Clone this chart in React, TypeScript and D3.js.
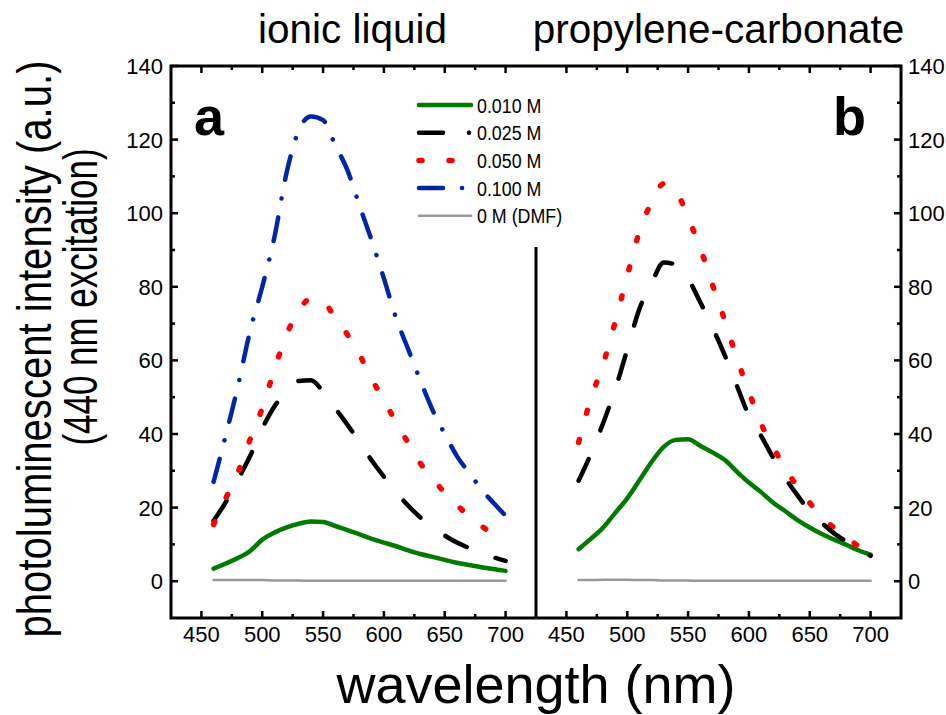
import React, { useEffect, useRef } from 'react';
import * as d3 from 'd3';

// wavelength grid (nm)
const wavelengths = [460, 470, 480, 490, 500, 510, 520, 530, 540, 550, 560, 570, 580, 590, 600, 610, 620, 630, 640, 650, 660, 670, 680, 690, 700];

// panel a: ionic liquid
const ilM010 = [3.4, 4.8, 6.3, 8.2, 11.3, 13.2, 14.6, 15.6, 16.2, 16.1, 15.0, 13.9, 12.7, 11.5, 10.5, 9.5, 8.4, 7.4, 6.6, 5.8, 5.0, 4.4, 3.8, 3.3, 2.8];
const ilM025 = [16.4, 21.5, 27.6, 34, 41.5, 47.5, 51.5, 54.4, 54.6, 51.5, 47, 42.5, 37.8, 32.8, 28.4, 24.2, 20.5, 17.3, 14.7, 12.4, 10.5, 9, 7.5, 6.5, 5.5];
const ilM050 = [15.4, 22.5, 29.5, 38.5, 47, 57.5, 67, 73.5, 76.8, 76, 71.5, 67, 61.5, 55, 49, 43.3, 37.5, 32, 28, 24, 20.8, 17.5, 15, 12.8, 11];
const ilM100 = [27, 39.6, 53, 68, 80, 93.5, 111, 122.5, 126.3, 125.3, 118.5, 111.7, 102, 92.5, 82.3, 71.5, 63, 54.5, 46.5, 40, 34, 29.5, 25, 21.3, 17.8];
const ilDMF = [0.3, 0.3, 0.3, 0.3, 0.3, 0.2, 0.2, 0.2, 0.1, 0.1, 0.1, 0.1, 0.1, 0.1, 0.1, 0.1, 0.1, 0.1, 0.1, 0.1, 0.1, 0.1, 0.1, 0.1, 0.1];

// panel b: propylene-carbonate
const pcM010 = [8.7, 11.5, 14.5, 18.5, 22.5, 27.4, 32.4, 36.5, 38.4, 38.6, 36.8, 35, 33, 29.8, 26.8, 24.2, 21.3, 19, 16.6, 14.6, 12.8, 11.3, 9.9, 8.4, 7.2];
const pcM025 = [27.3, 34.5, 42.8, 52, 63, 74, 81, 86.6, 86.0, 82.2, 75.8, 69, 61.5, 53.2, 45, 39.5, 33.5, 28, 23.3, 19, 15.8, 13, 10.8, 8.7, 6.9];
const pcM050 = [37.7, 49.5, 58.8, 70.3, 83, 95, 103, 108, 106, 98.8, 90.5, 80.6, 71, 60.7, 51.5, 42.8, 36.5, 30.4, 25.7, 21.3, 17.4, 14.5, 12, 9.5, 7.5];
const pcDMF = [0.3, 0.3, 0.4, 0.4, 0.4, 0.3, 0.3, 0.2, 0.2, 0.2, 0.1, 0.1, 0.1, 0.1, 0.1, 0.1, 0.1, 0.1, 0.1, 0.1, 0.1, 0.1, 0.1, 0.1, 0.1];

const legendLabels = ['0.010 M', '0.025 M', '0.050 M', '0.100 M', '0 M (DMF)'];
const xTicks = [450, 500, 550, 600, 650, 700];
const xMinor = [475, 525, 575, 625, 675];
const yTicks = [0, 20, 40, 60, 80, 100, 120, 140];
const yMinor = [10, 30, 50, 70, 90, 110, 130];

const FONT = '"Liberation Sans", Arial, Helvetica, sans-serif';

type Style = { color: string; width: number; dash: string | null; legendDash: string | null };
const styles: Style[] = [
  { color: '#007a00', width: 4.5, dash: null, legendDash: null },
  { color: '#000000', width: 4.5, dash: '24 31', legendDash: '24 26 0.1 5' },
  { color: '#ff0000', width: 5.5, dash: '3 27', legendDash: '3 27' },
  { color: '#0026a6', width: 4.5, dash: '24 19 0.1 19', legendDash: '24 19 0.1 19' },
  { color: '#999999', width: 2.5, dash: null, legendDash: null },
];

export default function App() {
  const svgRef = useRef<SVGSVGElement>(null);

  useEffect(() => {
    if (!svgRef.current) return;
    const svg = d3.select(svgRef.current);
    svg.selectAll('*').remove();

    const top = 66, bottom = 618;
    const left = 171, mid = 536, right = 901;

    const y = d3.scaleLinear().domain([-10, 140]).range([bottom, top]);
    const xA = d3.scaleLinear().domain([425, 725]).range([left, mid]);
    const xB = d3.scaleLinear().domain([425, 725]).range([mid, right]);

    const drawSeries = (x: d3.ScaleLinear<number, number>, series: number[][], styleIdx: number[]) => {
      series.forEach((vals, k) => {
        const st = styles[styleIdx[k]];
        const line = d3.line<number>()
          .x((_, i) => x(wavelengths[i]))
          .y(d => y(d))
          .curve(d3.curveMonotoneX);
        svg.append('path')
          .attr('d', line(vals))
          .attr('fill', 'none')
          .attr('stroke', st.color)
          .attr('stroke-width', st.width)
          .attr('stroke-linecap', 'round')
          .attr('stroke-linejoin', 'round')
          .attr('stroke-dasharray', st.dash);
      });
    };

    drawSeries(xA, [ilDMF, ilM010, ilM025, ilM050, ilM100], [4, 0, 1, 2, 3]);
    drawSeries(xB, [pcDMF, pcM010, pcM050, pcM025], [4, 0, 2, 1]);

    // frame
    const frame = svg.append('g').attr('stroke', '#000').attr('stroke-width', 3).attr('fill', 'none');
    frame.append('path').attr('d', `M${left},${top}H${right}V${bottom}H${left}Z`).attr('stroke-linejoin', 'miter');
    frame.append('line').attr('x1', mid).attr('x2', mid).attr('y1', 247).attr('y2', bottom);

    // x ticks (inward, top and bottom) for both panels
    const ticks = svg.append('g').attr('stroke', '#000').attr('stroke-width', 2.5);
    [xA, xB].forEach(x => {
      xTicks.forEach(t => {
        ticks.append('line').attr('x1', x(t)).attr('x2', x(t)).attr('y1', bottom).attr('y2', bottom - 7);
        ticks.append('line').attr('x1', x(t)).attr('x2', x(t)).attr('y1', top).attr('y2', top + 7);
      });
      xMinor.forEach(t => {
        ticks.append('line').attr('x1', x(t)).attr('x2', x(t)).attr('y1', bottom).attr('y2', bottom - 4);
        ticks.append('line').attr('x1', x(t)).attr('x2', x(t)).attr('y1', top).attr('y2', top + 4);
      });
      svg.append('g').selectAll('text').data(xTicks).enter().append('text')
        .attr('x', d => x(d))
        .attr('y', 642)
        .attr('text-anchor', 'middle')
        .attr('font-family', FONT)
        .attr('font-size', 22)
        .text(d => d);
    });

    // y ticks (inward) on left of a and right of b
    yTicks.forEach(t => {
      ticks.append('line').attr('x1', left).attr('x2', left + 7).attr('y1', y(t)).attr('y2', y(t));
      ticks.append('line').attr('x1', right).attr('x2', right - 7).attr('y1', y(t)).attr('y2', y(t));
    });
    yMinor.forEach(t => {
      ticks.append('line').attr('x1', left).attr('x2', left + 4).attr('y1', y(t)).attr('y2', y(t));
      ticks.append('line').attr('x1', right).attr('x2', right - 4).attr('y1', y(t)).attr('y2', y(t));
    });
    svg.append('g').selectAll('text').data(yTicks).enter().append('text')
      .attr('x', 163).attr('y', d => y(d) + 8)
      .attr('text-anchor', 'end')
      .attr('font-family', FONT).attr('font-size', 22)
      .text(d => d);
    svg.append('g').selectAll('text').data(yTicks).enter().append('text')
      .attr('x', 908).attr('y', d => y(d) + 8)
      .attr('text-anchor', 'start')
      .attr('font-family', FONT).attr('font-size', 22)
      .text(d => d);

    // panel letters
    svg.append('text').attr('x', 194).attr('y', 135).attr('font-family', FONT)
      .attr('font-size', 54).attr('font-weight', 'bold').text('a');
    svg.append('text').attr('x', 833).attr('y', 135).attr('font-family', FONT)
      .attr('font-size', 54).attr('font-weight', 'bold').text('b');

    // titles
    svg.append('text').attr('x', (left + mid) / 2 - 1).attr('y', 43).attr('text-anchor', 'middle')
      .attr('font-family', FONT).attr('font-size', 40.5).text('ionic liquid');
    svg.append('text').attr('x', (mid + right) / 2).attr('y', 43).attr('text-anchor', 'middle')
      .attr('font-family', FONT).attr('font-size', 40.5).text('propylene-carbonate');

    // axis titles
    svg.append('text').attr('x', (left + right) / 2).attr('y', 703).attr('text-anchor', 'middle')
      .attr('font-family', FONT).attr('font-size', 54).text('wavelength (nm)');
    svg.append('text').attr('transform', 'translate(51,349) rotate(-90) scale(1.055,1.25)')
      .attr('text-anchor', 'middle').attr('font-family', FONT).attr('font-size', 38)
      .text('photoluminescent intensity (a.u.)');
    svg.append('text').attr('transform', 'translate(97,297) rotate(-90) scale(0.92,1.25)')
      .attr('text-anchor', 'middle').attr('font-family', FONT).attr('font-size', 38)
      .text('(440 nm excitation)');

    // legend
    const legend = svg.append('g').attr('transform', 'translate(417,105)');
    legendLabels.forEach((lab, i) => {
      const st = styles[i];
      const gy = i * 27.7;
      legend.append('line')
        .attr('x1', 2).attr('x2', 54).attr('y1', gy).attr('y2', gy)
        .attr('stroke', st.color)
        .attr('stroke-width', st.width)
        .attr('stroke-linecap', 'round')
        .attr('stroke-dasharray', st.legendDash);
      legend.append('text')
        .attr('transform', `translate(60,${gy + 7.5}) scale(0.85,1)`)
        .attr('font-family', FONT).attr('font-size', 21)
        .text(lab);
    });
  }, []);

  return (
    <svg
      ref={svgRef}
      width={946}
      height={715}
      viewBox="0 0 946 715"
      style={{ position: 'absolute', left: 0, top: 0, background: '#fff' }}
    />
  );
}
